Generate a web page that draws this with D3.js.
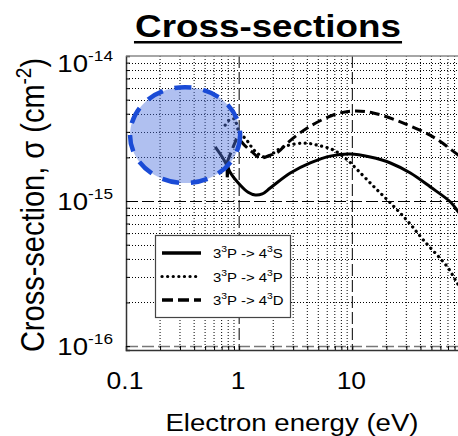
<!DOCTYPE html>
<html>
<head>
<meta charset="utf-8">
<script src="https://cdn.jsdelivr.net/npm/d3@7"></script>
<style>
  body { margin: 0; background: #fff; }
  svg { display: block; font-family: Arial, 'Liberation Sans', sans-serif; }
</style>
</head>
<body>
<div id="container"></div>
<script>
// transitions: 3^3P -> 4^3S / 4^3P / 4^3D  (energy eV, cross-section cm^2)
const sEnergy = [0.614, 0.784, 0.784, 0.784, 0.80, 0.832, 1.02, 1.20, 1.39, 1.60, 1.88, 2.83, 4.25, 6.39, 9.6, 14.4, 21.7, 32.6, 49, 73.6, 86.7, 100];
const sSigma  = [2.36e-15, 1.72e-15, 1.46e-15, 1.85e-15, 1.70e-15, 1.58e-15, 1.29e-15, 1.15e-15, 1.10e-15, 1.12e-15, 1.23e-15, 1.56e-15, 1.83e-15, 2.04e-15, 2.11e-15, 2.01e-15, 1.83e-15, 1.56e-15, 1.25e-15, 9.85e-16, 8.4e-16, 7.3e-16];

const pEnergy = [0.752, 0.817, 0.903, 1.02, 1.13, 1.25, 1.44, 1.70, 2.45, 3.68, 4.90, 6.79, 9.04, 11.1, 15.3, 21.7, 30.7, 42.5, 69.4, 86.7, 100];
const pSigma  = [3.34e-15, 3.62e-15, 3.68e-15, 2.85e-15, 2.72e-15, 2.43e-15, 2.14e-15, 2.01e-15, 2.36e-15, 2.51e-15, 2.43e-15, 2.25e-15, 1.92e-15, 1.64e-15, 1.27e-15, 9.7e-16, 7.3e-16, 5.38e-16, 3.5e-16, 2.64e-16, 2.3e-16];

const dEnergy = [0.784, 0.922, 0.96, 1.13, 1.30, 1.53, 1.88, 2.21, 2.66, 4.0, 6.79, 10.2, 15.3, 26.6, 52.1, 86.7, 100];
const dSigma  = [1.86e-15, 2.55e-15, 2.72e-15, 2.40e-15, 2.18e-15, 1.98e-15, 2.07e-15, 2.18e-15, 2.51e-15, 3.19e-15, 3.92e-15, 4.18e-15, 4.05e-15, 3.51e-15, 2.76e-15, 2.07e-15, 1.92e-15];

const seriesNames = ['4S', '4P', '4D'];
const xTicks = [0.1, 1, 10];
const yTicks = [1e-14, 1e-15, 1e-16];
const yTickExp = ['-14', '-15', '-16'];

// highlighted region (energy / sigma bounds)
const ringE = [0.1085, 1.02];
const ringS = [1.33e-15, 6.1e-15];

const W = 458, H = 436;
const stretch = 1.15;   // picture is a little wider than tall

const svg = d3.select('#container')
    .append('svg')
    .attr('width', W)
    .attr('height', H);

const x = d3.scaleLog().domain([0.1, 100]).range([126, 465.5]);
const y = d3.scaleLog().domain([9.4e-17, 1e-14]).range([350, 56]);

const minorX = [], minorY = [];
[0.1, 1, 10].forEach(d => { for (let k = 2; k <= 9; k++) minorX.push(d * k); });
[1e-16, 1e-15].forEach(d => { for (let k = 2; k <= 9; k++) minorY.push(d * k); });

// grid: dotted minor lines
const grid = svg.append('g');
grid.selectAll('.gx').data(minorX).enter().append('line')
    .attr('x1', d => x(d)).attr('x2', d => x(d))
    .attr('y1', y.range()[1]).attr('y2', y.range()[0])
    .attr('stroke', '#000').attr('stroke-width', 1).attr('stroke-dasharray', '1,2');
grid.selectAll('.gy').data(minorY).enter().append('line')
    .attr('y1', d => Math.round(y(d)) + 0.5).attr('y2', d => Math.round(y(d)) + 0.5)
    .attr('x1', x.range()[0]).attr('x2', W)
    .attr('stroke', '#000').attr('stroke-width', 1).attr('stroke-dasharray', '1,2');

// major dashed lines
grid.selectAll('.mx').data([1, 10]).enter().append('line')
    .attr('x1', d => x(d)).attr('x2', d => x(d))
    .attr('y1', y.range()[1]).attr('y2', y.range()[0])
    .attr('stroke', '#000').attr('stroke-width', 1).attr('stroke-dasharray', '12,4');
grid.selectAll('.my').data([1e-15, 1e-16]).enter().append('line')
    .attr('y1', d => Math.round(y(d)) + 0.5).attr('y2', d => Math.round(y(d)) + 0.5)
    .attr('x1', x.range()[0]).attr('x2', W)
    .attr('stroke', (d, i) => i ? '#777' : '#000').attr('stroke-width', (d, i) => i ? 1.5 : 1)
    .attr('stroke-dasharray', '12,4');

// frame + inside ticks
const allX = xTicks.concat(minorX).filter(d => d <= 100);
const allY = yTicks.concat(minorY);
svg.append('g')
    .attr('transform', `translate(0,${y.range()[0]})`)
    .call(d3.axisBottom(x).tickValues(allX).tickSize(-4).tickFormat(''))
    .call(g => g.select('.domain').attr('stroke', '#333').attr('stroke-width', 1.5));
svg.append('g')
    .attr('transform', `translate(${x.range()[0]},0)`)
    .call(d3.axisLeft(y).tickValues(allY).tickSize(-4).tickFormat(''))
    .call(g => g.select('.domain').attr('stroke', '#333').attr('stroke-width', 1.5));
svg.append('line')
    .attr('x1', x.range()[0]).attr('x2', W)
    .attr('y1', y.range()[1]).attr('y2', y.range()[1])
    .attr('stroke', '#888').attr('stroke-width', 1.5);

// curves
const line = d3.line()
    .x(d => x(d[0]))
    .y(d => y(d[1]))
    .curve(d3.curveCatmullRom.alpha(0.5));

const series = [
    { name: seriesNames[0], pts: d3.zip(sEnergy, sSigma), dash: null },
    { name: seriesNames[1], pts: d3.zip(pEnergy, pSigma), dash: '0.1,5.5' },
    { name: seriesNames[2], pts: d3.zip(dEnergy, dSigma), dash: '10,5' }
];

svg.append('clipPath').attr('id', 'plot')
    .append('rect').attr('x', x.range()[0]).attr('y', y.range()[1])
    .attr('width', W - x.range()[0]).attr('height', y.range()[0] - y.range()[1]);

svg.append('g').attr('clip-path', 'url(#plot)')
    .selectAll('path').data(series).enter().append('path')
    .attr('d', s => line(s.pts))
    .attr('fill', 'none')
    .attr('stroke', '#000')
    .attr('stroke-width', s => s.dash === '0.1,5.5' ? 3.2 : 3)
    .attr('stroke-linecap', s => s.dash === '0.1,5.5' ? 'round' : 'butt')
    .attr('stroke-dasharray', s => s.dash);

// highlighted ring
const cx = (x(ringE[0]) + x(ringE[1])) / 2, cy = (y(ringS[0]) + y(ringS[1])) / 2;
svg.append('ellipse')
    .attr('cx', cx).attr('cy', cy)
    .attr('rx', (x(ringE[1]) - x(ringE[0])) / 2)
    .attr('ry', (y(ringS[0]) - y(ringS[1])) / 2)
    .attr('fill', '#4f74dd').attr('fill-opacity', 0.45)
    .attr('stroke', '#1a4bd6').attr('stroke-width', 4.5)
    .attr('stroke-dasharray', '17,12');

// legend
const lg = svg.append('g');
lg.append('rect').attr('x', 155.5).attr('y', 235.5).attr('width', 135).attr('height', 82)
    .attr('fill', '#fff').attr('stroke', '#444').attr('stroke-width', 1.2);
const upper = ['S', 'P', 'D'];
series.forEach((s, i) => {
    const ly = 253 + i * 23.5;
    lg.append('line').attr('x1', 162).attr('x2', 201).attr('y1', ly).attr('y2', ly)
        .attr('stroke', '#000').attr('stroke-width', s.dash === '0.1,5.5' ? 3.2 : 3.5)
        .attr('stroke-linecap', s.dash === '0.1,5.5' ? 'round' : 'butt')
        .attr('stroke-dasharray', s.dash === '10,5' ? '11,5' : s.dash);
    const t = lg.append('g').attr('transform', `translate(213,${ly + 5}) scale(${stretch},1)`)
        .append('text').attr('font-size', 13).attr('fill', '#000');
    t.append('tspan').text('3');
    t.append('tspan').attr('font-size', 9).attr('dy', -6).text('3');
    t.append('tspan').attr('dy', 6).text('P -> 4');
    t.append('tspan').attr('font-size', 9).attr('dy', -6).text('3');
    t.append('tspan').attr('dy', 6).text(upper[i]);
});

// tick labels
svg.append('g').selectAll('g').data(xTicks).enter().append('g')
    .attr('transform', d => `translate(${x(d) - 1},389) scale(${stretch},1)`)
    .append('text').attr('text-anchor', 'middle').attr('font-size', 23).text(d => d3.format('~g')(d));

const yl = svg.append('g').selectAll('g').data(yTicks).enter().append('g')
    .attr('transform', (d, i) => `translate(113,${y(d) + (i === 0 ? 16 : 9)}) scale(${stretch},1)`)
    .append('text').attr('text-anchor', 'end').attr('font-size', 24);
yl.append('tspan').text('10');
yl.append('tspan').attr('font-size', 15).attr('dy', -11).text((d, i) => yTickExp[i]);

// axis titles
svg.append('g').attr('transform', `translate(292,431) scale(${stretch},1)`)
    .append('text').attr('text-anchor', 'middle').attr('font-size', 24)
    .text('Electron energy (eV)');

const ylab = svg.append('g').attr('transform', `translate(32,205) scale(${stretch},1) rotate(-90)`)
    .append('text').attr('text-anchor', 'middle').attr('dy', '0.35em').attr('font-size', 29);
ylab.append('tspan').text('Cross-section, σ (cm');
ylab.append('tspan').attr('font-size', 19).attr('dy', -11).text('-2');
ylab.append('tspan').attr('dy', 11).text(')');

// title
const title = svg.append('g').attr('transform', `translate(268,37) scale(${stretch},1)`);
const tt = title.append('text').attr('text-anchor', 'middle')
    .attr('font-size', 32).attr('font-weight', 'bold').text('Cross-sections');
const tw = tt.node().getComputedTextLength();
title.append('rect').attr('x', -tw / 2 - 1).attr('y', 4).attr('width', tw + 2).attr('height', 2.5).attr('fill', '#000');
</script>
</body>
</html>
